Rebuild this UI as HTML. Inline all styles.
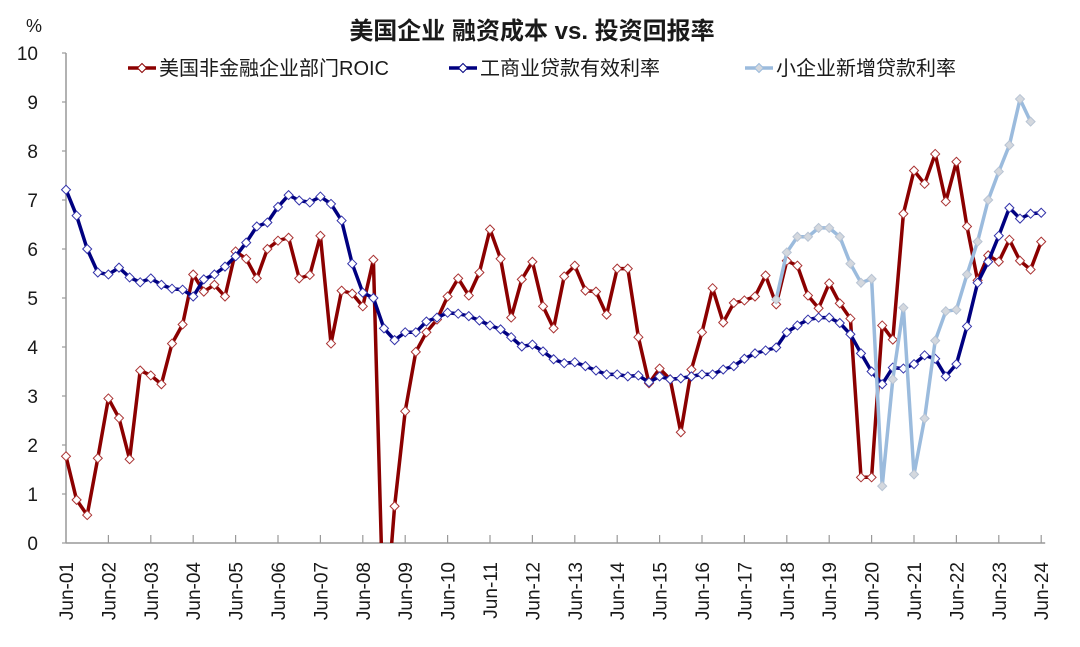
<!DOCTYPE html>
<html><head><meta charset="utf-8"><style>
body{margin:0;background:#fff;}
svg text{font-family:"Liberation Sans","Noto Sans CJK SC",sans-serif;fill:#1a1a1a;}
</style></head><body>
<svg id="chart" width="1080" height="642" viewBox="0 0 1080 642" xmlns="http://www.w3.org/2000/svg">
<text x="532" y="39" text-anchor="middle" font-size="24" font-weight="bold">美国企业 融资成本 vs. 投资回报率</text>
<text x="34" y="32" text-anchor="middle" font-size="18">%</text>
<g id="legend"></g>
<g id="axes"></g>
<g id="series"></g>
</svg>
<script>
const years = ["01","02","03","04","05","06","07","08","09","10","11","12","13","14","15","16","17","18","19","20","21","22","23","24"];
const yTicks = [0,1,2,3,4,5,6,7,8,9,10];
const roic = [1.77,0.88,0.57,1.73,2.95,2.55,1.71,3.52,3.42,3.24,4.07,4.46,5.48,5.13,5.27,5.03,5.95,5.8,5.4,6.0,6.17,6.23,5.4,5.47,6.27,4.07,5.15,5.09,4.83,5.78,-2,0.75,2.69,3.9,4.3,4.56,5.03,5.4,5.05,5.52,6.4,5.8,4.6,5.38,5.74,4.83,4.38,5.44,5.66,5.15,5.13,4.66,5.6,5.6,4.2,3.26,3.56,3.34,2.26,3.54,4.3,5.2,4.5,4.9,4.95,5.03,5.46,4.87,5.76,5.66,5.05,4.79,5.3,4.89,4.58,1.34,1.34,4.44,4.15,6.72,7.6,7.33,7.94,6.97,7.78,6.46,5.36,5.87,5.74,6.19,5.76,5.58,6.15];
const ciRate = [7.21,6.68,6.0,5.52,5.48,5.62,5.42,5.32,5.4,5.27,5.19,5.17,5.03,5.38,5.48,5.64,5.85,6.13,6.46,6.54,6.86,7.1,6.99,6.95,7.07,6.92,6.58,5.7,5.11,5.0,4.38,4.14,4.3,4.3,4.52,4.6,4.7,4.68,4.63,4.54,4.44,4.36,4.2,4.01,4.05,3.91,3.75,3.67,3.69,3.61,3.52,3.44,3.44,3.4,3.42,3.28,3.4,3.34,3.36,3.4,3.44,3.44,3.54,3.61,3.76,3.87,3.93,3.99,4.3,4.44,4.56,4.6,4.6,4.49,4.26,3.87,3.5,3.24,3.58,3.56,3.65,3.83,3.76,3.4,3.65,4.42,5.31,5.74,6.27,6.84,6.62,6.72,6.74];
const smallBizStart = 67;
const smallBiz = [4.97,5.93,6.25,6.25,6.43,6.43,6.25,5.7,5.31,5.39,1.16,3.34,4.8,1.4,2.54,4.13,4.73,4.76,5.48,6.15,7.0,7.58,8.12,9.06,8.6];

const NS="http://www.w3.org/2000/svg";
const X0=66, DX=10.6, Y0=543, DY=49.0, PLOT_TOP=53;
function xq(i){return X0+i*DX;}
function yv(v){return Y0-v*DY;}
function mk(tag,attrs,parent){const e=document.createElementNS(NS,tag);for(const k in attrs)e.setAttribute(k,attrs[k]);parent.appendChild(e);return e;}
const axes=document.getElementById('axes'), ser=document.getElementById('series'), leg=document.getElementById('legend');

const yl=mk('line',{x1:X0,y1:PLOT_TOP,x2:X0,y2:Y0,stroke:'#999','stroke-width':1.5},axes);


const xl=mk('line',{x1:X0,y1:Y0,x2:xq(92)+4,y2:Y0,stroke:'#999','stroke-width':1.5},axes);


yTicks.forEach(v=>{
  const t=mk('line',{x1:X0-4,y1:yv(v),x2:X0,y2:yv(v),stroke:'#999','stroke-width':1.2},axes);
  
  
  const tx=mk('text',{x:38,y:yv(v)+7,'text-anchor':'end','font-size':19},axes);
  
  
  tx.textContent=v;
});
years.forEach((y,k)=>{
  const x=xq(k*4);
  if(k>0){const t=mk('line',{x1:x,y1:Y0-8,x2:x,y2:Y0,stroke:'#999','stroke-width':1.2},axes);
  
  }
  const tx=mk('text',{x:0,y:0,'text-anchor':'end','font-size':19,transform:`translate(${x+7},562) rotate(-90)`},axes);
  
  
  tx.textContent='Jun-'+y;
});

function drawSeries(vals,start,color,fill,mstroke,name){
  const g=mk('g',{},ser);
  
  
  const pts=vals.map((v,i)=>xq(start+i).toFixed(1)+','+yv(v).toFixed(1)).join(' ');
  const cp=mk('clipPath',{id:'c'+name},g);
  mk('rect',{x:0,y:0,width:1080,height:Y0},cp);
  const pl=mk('polyline',{points:pts,fill:'none',stroke:color,'stroke-width':3.5,'stroke-linejoin':'round','clip-path':`url(#c${name})`},g);
  
  
  vals.forEach((v,i)=>{
    if(v<0)return;
    const x=xq(start+i),y=yv(v),r=4.5;
    const m=mk('polygon',{points:`${x},${y-r} ${x+r},${y} ${x},${y+r} ${x-r},${y}`,fill:fill,stroke:mstroke,'stroke-width':1},g);
    
    
  });
}
drawSeries(roic,0,'#8b0000','#fff','#a33','roic-series');
drawSeries(ciRate,0,'#000080','#fff','#33a','ci-loan-rate-series');
drawSeries(smallBiz,smallBizStart,'#9bbbdd','#d4d8de','#b8c4d4','small-biz-rate-series');

const legItems=[['美国非金融企业部门ROIC','#8b0000','#fff',128],['工商业贷款有效利率','#000080','#fff',449],['小企业新增贷款利率','#9bbbdd','#d4d8de',745]];
legItems.forEach(([label,c,f,x])=>{
  const g=mk('g',{},leg);
  
  
  mk('line',{x1:x,y1:68,x2:x+28,y2:68,stroke:c,'stroke-width':3.5},g);
  const cx=x+14;
  mk('polygon',{points:`${cx},63.5 ${cx+4.5},68 ${cx},72.5 ${cx-4.5},68`,fill:f,stroke:c,'stroke-width':1},g);
  const t=mk('text',{x:x+31,y:75,'font-size':20},g);
  t.textContent=label;
});
</script>
</body></html>
